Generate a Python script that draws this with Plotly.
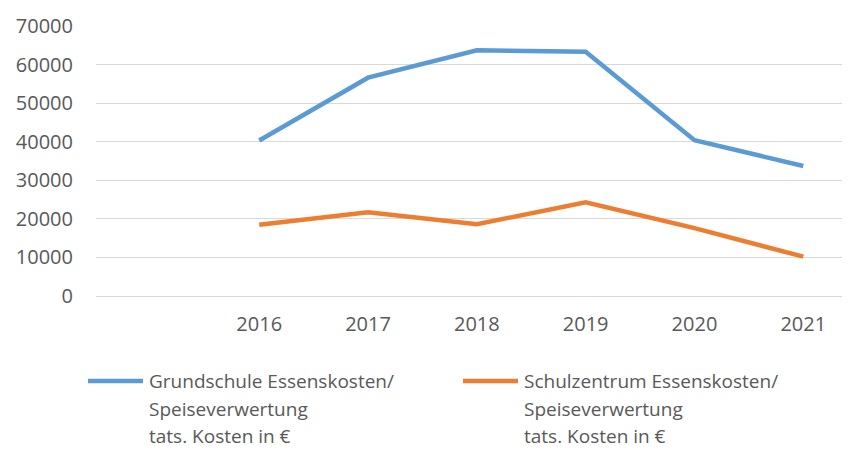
import plotly.graph_objects as go

categories = [" ", "2016", "2017", "2018", "2019", "2020", "2021"]
years = ["2016", "2017", "2018", "2019", "2020", "2021"]
grundschule = [40300, 56600, 63700, 63300, 40400, 33700]
schulzentrum = [18500, 21700, 18600, 24300, 17600, 10200]
y_ticks = [0, 10000, 20000, 30000, 40000, 50000, 60000, 70000]
y_tick_labels = ["0", "10000", "20000", "30000", "40000", "50000", "60000", "70000"]
legend_grund = ["Grundschule Essenskosten/", "Speiseverwertung", "tats. Kosten in €"]
legend_schul = ["Schulzentrum Essenskosten/", "Speiseverwertung", "tats. Kosten in €"]

FONT = "Open Sans"
GREY = "#595959"
BLUE = "#5B9BD5"
ORANGE = "#ED7D31"

# page body has an 8px margin; compensate so the plot lands where it should
W, H = 842, 442
L, R, T, B = 88, 1, 18, 154
PW, PH = W - L - R, H - T - B


def px(fx):
    return (fx - L) / PW


def py(fy):
    return (T + PH - fy) / PH


fig = go.Figure()
fig.add_trace(go.Scatter(x=years, y=grundschule, mode="lines", name=" ".join(legend_grund),
                         line=dict(color=BLUE, width=4.5)))
fig.add_trace(go.Scatter(x=years, y=schulzentrum, mode="lines", name=" ".join(legend_schul),
                         line=dict(color=ORANGE, width=4.5)))

fig.update_layout(
    width=W, height=H,
    margin=dict(l=L, r=R, t=T, b=B, autoexpand=False),
    paper_bgcolor="white", plot_bgcolor="white",
    font=dict(family=FONT, color=GREY, size=18),
    showlegend=False,
    xaxis=dict(type="category", categoryorder="array", categoryarray=categories,
               range=[-0.5, 6.42], showgrid=False, showline=False, ticks="",
               tickfont=dict(size=20, color=GREY), ticklabelstandoff=14),
    yaxis=dict(range=[0, 70000], tickvals=y_ticks, ticktext=y_tick_labels,
               showgrid=True, gridcolor="#D9D9D9", gridwidth=1,
               zeroline=True, zerolinecolor="#D9D9D9", zerolinewidth=1,
               showline=False, ticks="",
               tickfont=dict(size=20, color=GREY), ticklabelstandoff=22),
)

# manual legend (screen coords minus the 8px page offset)
line_y = [373, 401, 428]
for color, labels, x0, x1, tx in [(BLUE, legend_grund, 80, 135, 139),
                                  (ORANGE, legend_schul, 455, 510, 514)]:
    fig.add_shape(type="line", xref="paper", yref="paper",
                  x0=px(x0), x1=px(x1), y0=py(line_y[0]), y1=py(line_y[0]),
                  line=dict(color=color, width=4.5))
    for txt, ly in zip(labels, line_y):
        fig.add_annotation(xref="paper", yref="paper", x=px(tx), y=py(ly),
                           xanchor="left", yanchor="middle", showarrow=False,
                           text=txt, font=dict(family=FONT, size=19, color=GREY))

fig.write_html("out.html")
